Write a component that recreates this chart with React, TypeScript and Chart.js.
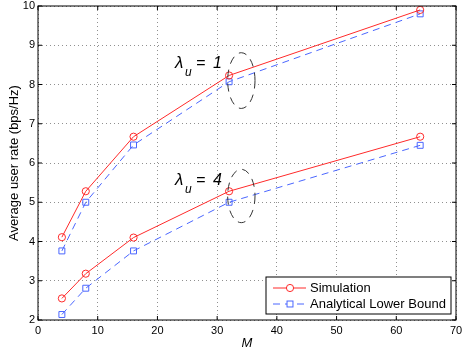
import React, { useEffect, useRef } from 'react';
import { Chart, registerables } from 'chart.js';

Chart.register(...registerables);

// ---- data ----
const M = [4, 8, 16, 32, 64];
const simLambda1 = [4.11, 5.28, 6.67, 8.23, 9.9];
const lbLambda1 = [3.76, 5.0, 6.46, 8.07, 9.8];
const simLambda4 = [2.55, 3.18, 4.1, 5.28, 6.67];
const lbLambda4 = [2.14, 2.81, 3.76, 5.0, 6.45];
const xTicks = [0, 10, 20, 30, 40, 50, 60, 70];
const yTicks = [2, 3, 4, 5, 6, 7, 8, 9, 10];
const seriesLabels = ['Simulation', 'Analytical Lower Bound'];
const xTitle = 'M';
const yTitle = 'Average user rate (bps/Hz)';
const annotLambda = ['1', '4'];
const annotX = [22.94, 22.94];
const annotY = [8.41, 5.44];
const ellipseX = [34.05, 34.05];
const ellipseY = [8.1, 5.16];
const ellipseRx = [2.29, 2.29];
const ellipseRy = [0.71, 0.68];

const RED = '#ff2a2a';
const BLUE = '#4a66ff';
const FONT = '"Liberation Sans", Arial, Helvetica, sans-serif';

const pts = (ys: number[]) => M.map((m, i) => ({ x: m, y: ys[i] }));

const simStyle = {
  borderColor: RED,
  borderWidth: 1,
  pointStyle: 'circle' as const,
  pointRadius: 3.6,
  pointBorderColor: RED,
  pointBackgroundColor: 'rgba(0,0,0,0)',
  pointBorderWidth: 1,
  fill: false,
  tension: 0,
};
const lbStyle = {
  borderColor: BLUE,
  borderWidth: 1,
  borderDash: [7, 5],
  pointStyle: 'rect' as const,
  pointRadius: 4.2,
  pointBorderColor: BLUE,
  pointBackgroundColor: 'rgba(0,0,0,0)',
  pointBorderWidth: 1,
  fill: false,
  tension: 0,
};

const decorPlugin = {
  id: 'decor',
  afterDatasetsDraw(chart: any) {
    const ctx = chart.ctx;
    const xs = chart.scales.x;
    const ys = chart.scales.y;
    ctx.save();
    // ellipses
    ctx.strokeStyle = '#333';
    ctx.lineWidth = 1;
    ctx.setLineDash([8, 6]);
    for (let i = 0; i < ellipseX.length; i++) {
      const cx = xs.getPixelForValue(ellipseX[i]);
      const cy = ys.getPixelForValue(ellipseY[i]);
      const rx = Math.abs(xs.getPixelForValue(ellipseX[i] + ellipseRx[i]) - cx);
      const ry = Math.abs(ys.getPixelForValue(ellipseY[i] + ellipseRy[i]) - cy);
      ctx.beginPath();
      ctx.ellipse(cx, cy, rx, ry, 0, 0, Math.PI * 2);
      ctx.stroke();
    }
    ctx.setLineDash([]);
    // annotations
    ctx.fillStyle = '#000';
    ctx.textBaseline = 'alphabetic';
    for (let i = 0; i < annotX.length; i++) {
      const x0 = xs.getPixelForValue(annotX[i]);
      const y0 = ys.getPixelForValue(annotY[i]);
      ctx.textAlign = 'left';
      ctx.font = `italic 17px ${FONT}`;
      ctx.fillText('\u03bb', x0, y0);
      ctx.font = `italic 12px ${FONT}`;
      ctx.fillText('u', x0 + 10, y0 + 8);
      ctx.font = `italic 16px ${FONT}`;
      ctx.fillText('=', x0 + 21, y0);
      ctx.textAlign = 'right';
      ctx.fillText(annotLambda[i], x0 + 47, y0);
    }
    ctx.restore();
  },
  afterDraw(chart: any) {
    const ctx = chart.ctx;
    const { left, right, top, bottom } = chart.chartArea;
    const xs = chart.scales.x;
    const ys = chart.scales.y;
    ctx.save();
    ctx.strokeStyle = '#000';
    ctx.lineWidth = 1;
    ctx.strokeRect(left, top, right - left, bottom - top);
    const tl = 4;
    ctx.beginPath();
    xTicks.forEach((v) => {
      const px = xs.getPixelForValue(v);
      ctx.moveTo(px, bottom);
      ctx.lineTo(px, bottom - tl);
      ctx.moveTo(px, top);
      ctx.lineTo(px, top + tl);
    });
    yTicks.forEach((v) => {
      const py = ys.getPixelForValue(v);
      ctx.moveTo(left, py);
      ctx.lineTo(left + tl, py);
      ctx.moveTo(right, py);
      ctx.lineTo(right - tl, py);
    });
    ctx.stroke();

    // legend
    const bx = right - 190;
    const by = bottom - 43;
    const bw = 185;
    const bh = 37;
    ctx.fillStyle = '#fff';
    ctx.fillRect(bx, by, bw, bh);
    ctx.strokeStyle = '#000';
    ctx.strokeRect(bx, by, bw, bh);
    const rows = [by + 11, by + 27];
    const styles = [simStyle, lbStyle];
    rows.forEach((ry, i) => {
      const st: any = styles[i];
      ctx.strokeStyle = st.borderColor;
      ctx.lineWidth = 1;
      ctx.setLineDash(st.borderDash || []);
      ctx.beginPath();
      ctx.moveTo(bx + 7, ry);
      ctx.lineTo(bx + 40, ry);
      ctx.stroke();
      ctx.setLineDash([]);
      const mx = bx + 24;
      ctx.fillStyle = '#fff';
      if (i === 0) {
        ctx.beginPath();
        ctx.arc(mx, ry, st.pointRadius, 0, Math.PI * 2);
        ctx.fill();
        ctx.stroke();
      } else {
        const s = st.pointRadius * Math.SQRT1_2;
        ctx.fillRect(mx - s, ry - s, 2 * s, 2 * s);
        ctx.strokeRect(mx - s, ry - s, 2 * s, 2 * s);
      }
      ctx.fillStyle = '#000';
      ctx.font = `13px ${FONT}`;
      ctx.textAlign = 'left';
      ctx.textBaseline = 'middle';
      ctx.fillText(seriesLabels[i], bx + 44, ry);
    });
    ctx.restore();
  },
};

export default function App() {
  const ref = useRef<HTMLCanvasElement>(null);
  useEffect(() => {
    document.body.style.margin = '0';
    const canvas = ref.current!;
    const chart = new Chart(canvas, {
      type: 'line',
      data: {
        datasets: [
          { label: seriesLabels[0], data: pts(simLambda1), ...simStyle },
          { label: seriesLabels[1], data: pts(lbLambda1), ...lbStyle },
          { label: seriesLabels[0] + ' 4', data: pts(simLambda4), ...simStyle },
          { label: seriesLabels[1] + ' 4', data: pts(lbLambda4), ...lbStyle },
        ] as any,
      },
      options: {
        responsive: false,
        animation: false,
        devicePixelRatio: 1,
        layout: { padding: { top: 6, right: 7, bottom: 0, left: 0 } },
        plugins: { legend: { display: false }, tooltip: { enabled: false } },
        scales: {
          x: {
            type: 'linear',
            min: 0,
            max: 70,
            afterBuildTicks: (s: any) => {
              s.ticks = xTicks.map((v) => ({ value: v }));
            },
            afterFit: (s: any) => {
              s.height = 34;
              s.paddingLeft = 0;
              s.paddingRight = 0;
            },
            ticks: { font: { family: FONT, size: 11 }, color: '#000', padding: 4, maxRotation: 0 },
            grid: { color: '#909090', lineWidth: 1, drawTicks: false },
            border: { display: false, dash: [1, 3] },
            title: {
              display: true,
              text: xTitle,
              font: { family: FONT, size: 13, style: 'italic', lineHeight: 1.2 },
              color: '#000',
              padding: { top: 0, bottom: 3 },
            },
          },
          y: {
            type: 'linear',
            min: 2,
            max: 10,
            afterBuildTicks: (s: any) => {
              s.ticks = yTicks.map((v) => ({ value: v }));
            },
            afterFit: (s: any) => {
              s.width = 38;
              s.paddingTop = 0;
              s.paddingBottom = 0;
            },
            ticks: { font: { family: FONT, size: 11 }, color: '#000', padding: 3 },
            grid: { color: '#909090', lineWidth: 1, drawTicks: false },
            border: { display: false, dash: [1, 3] },
            title: {
              display: true,
              text: yTitle,
              font: { family: FONT, size: 13, lineHeight: 1.2 },
              color: '#000',
              padding: { top: 7, bottom: 0 },
            },
          },
        },
      },
      plugins: [decorPlugin],
    });
    return () => chart.destroy();
  }, []);
  return (
    <div style={{ width: 463, height: 354, background: '#fff' }}>
      <canvas ref={ref} width={463} height={354} style={{ display: 'block' }} />
    </div>
  );
}
